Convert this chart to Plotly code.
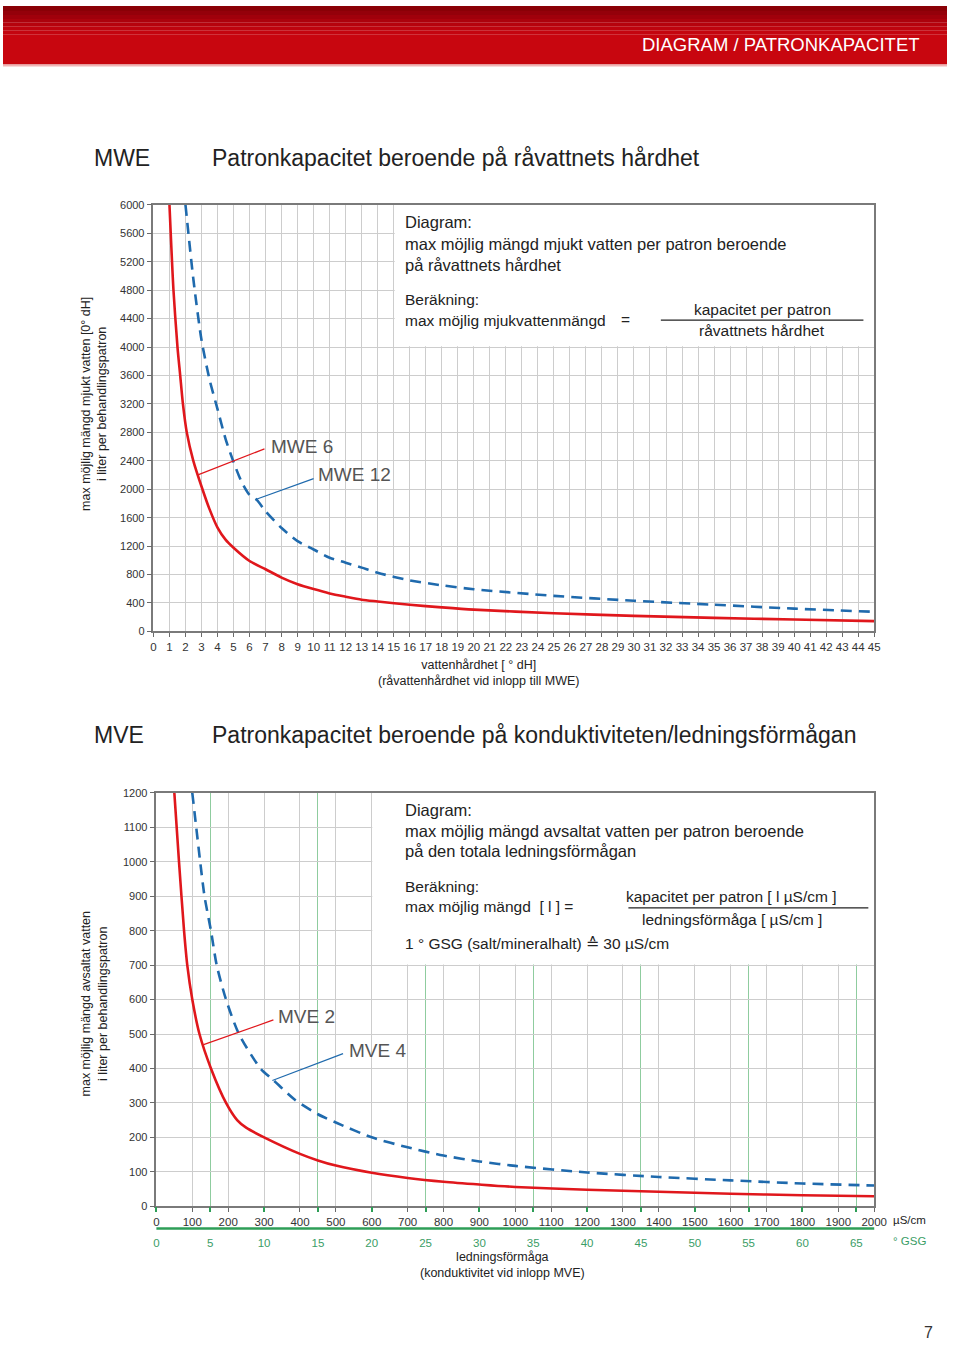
import plotly.graph_objects as go

# ---------------- data ----------------
hardness_red = [1, 1.25, 1.5, 1.67, 1.84, 2.08, 2.49, 3.06, 3.5, 4, 4.5, 5, 6, 7, 8, 9, 10, 11, 12, 13, 14, 16, 18, 20, 25, 30, 35, 40, 45]
mwe6 = [6000, 4800, 4000, 3600, 3200, 2800, 2400, 2000, 1720, 1460, 1290, 1176, 990, 874, 757, 664, 595, 534, 488, 446, 421, 375, 338, 306, 255, 218, 190, 167, 144]

hardness_blue = [2, 2.5, 3, 3.5, 4, 4.5, 5, 5.5, 6, 6.45, 7, 8, 9, 10, 11, 12, 13, 14, 16, 18, 20, 25, 30, 35, 40, 45]
mwe12 = [6000, 4940, 4100, 3545, 3127, 2709, 2384, 2105, 1920, 1850, 1690, 1454, 1269, 1152, 1036, 967, 897, 824, 718, 648, 593, 500, 431, 375, 320, 275]

cond_red = [50, 63, 77, 86, 100, 120, 152, 194, 225, 250, 300, 400, 450, 500, 600, 700, 800, 900, 1000, 1200, 1400, 1600, 1800, 2000]
mve2 = [1200, 1000, 800, 700, 600, 500, 400, 300, 250, 228, 200, 152, 133, 118, 97, 82, 71, 63, 56, 48, 42, 36, 32, 29]

cond_blue = [100, 111, 122, 134, 152, 168, 194, 230, 290, 327, 385, 450, 500, 600, 700, 800, 900, 1000, 1200, 1400, 1600, 1800, 2000]
mve4 = [1200, 1100, 1000, 900, 800, 700, 600, 500, 400, 365, 310, 267, 243, 200, 171, 147, 130, 117, 98, 85, 75, 66, 60]

hardness_ticks = list(range(0, 46))
capacity_ticks_top = list(range(0, 6001, 400))
cond_ticks = list(range(0, 2001, 100))
capacity_ticks_bottom = list(range(0, 1201, 100))
gsg_ticks = list(range(0, 66, 5))
gsg_grid = [5, 15, 25, 35, 45, 55, 65]

# ---------------- styling ----------------
W, H = 960, 1347
RED = "#e0171c"
BLUE = "#1f6aad"
GREEN = "#2e9e57"
GREEN_TXT = "#3a9d66"
GRID = "#cdcdcd"
FONT = "Liberation Sans, Arial, sans-serif"
NARROW = "Liberation Sans Narrow, Liberation Sans, Arial, sans-serif"


def px(x):
    return x / W


def py(y):
    return 1 - y / H


fig = go.Figure()

fig.add_trace(go.Scatter(x=hardness_red, y=mwe6, mode="lines", xaxis="x", yaxis="y",
                         line=dict(color=RED, width=2.6, shape="spline", smoothing=0.7),
                         showlegend=False, hoverinfo="skip"))
fig.add_trace(go.Scatter(x=hardness_blue, y=mwe12, mode="lines", xaxis="x", yaxis="y",
                         line=dict(color=BLUE, width=2.6, dash="11px,7px", shape="spline", smoothing=0.7),
                         showlegend=False, hoverinfo="skip"))
fig.add_trace(go.Scatter(x=cond_red, y=mve2, mode="lines", xaxis="x2", yaxis="y2",
                         line=dict(color=RED, width=2.6, shape="spline", smoothing=0.7),
                         showlegend=False, hoverinfo="skip"))
fig.add_trace(go.Scatter(x=cond_blue, y=mve4, mode="lines", xaxis="x2", yaxis="y2",
                         line=dict(color=BLUE, width=2.6, dash="11px,7px", shape="spline", smoothing=0.7),
                         showlegend=False, hoverinfo="skip"))
# invisible trace to activate the GSG overlay axis
fig.add_trace(go.Scatter(x=[0, 65], y=[None, None], mode="lines", xaxis="x3", yaxis="y2",
                         showlegend=False, hoverinfo="skip"))

axis_common = dict(showgrid=True, gridcolor=GRID, gridwidth=1, zeroline=False,
                   showline=True, linecolor="#7a7a7a", linewidth=1.5, mirror=True,
                   ticks="outside", tickcolor="#6a6a6a", ticklen=4,
                   tickfont=dict(family=FONT, size=11, color="#333"))

fig.update_layout(
    width=W, height=H, margin=dict(l=0, r=0, t=0, b=0),
    paper_bgcolor="white", plot_bgcolor="white",
    font=dict(family=FONT, color="#333"),
    hovermode=False,
    xaxis=dict(axis_common, domain=[px(153), px(886)], range=[0, 45], anchor="y",
               tickmode="array", tickvals=hardness_ticks,
               tickfont=dict(family=NARROW, size=11.5, color="#333")),
    yaxis=dict(axis_common, domain=[py(631), py(200.7)], range=[0, 6000], anchor="x",
               tickmode="array", tickvals=capacity_ticks_top, ticklen=5),
    xaxis2=dict(axis_common, domain=[px(156), px(886)], range=[0, 2000], anchor="y2",
                tickmode="array", tickvals=cond_ticks,
                minor=dict(tickmode="array", tickvals=[g * 30 for g in gsg_grid],
                           showgrid=True, gridcolor="#8fcc9f", gridwidth=1, ticks=""),
                tickfont=dict(family=NARROW, size=11.5, color="#333")),
    yaxis2=dict(axis_common, domain=[py(1211), py(794)], range=[0, 1200], anchor="x2",
                tickmode="array", tickvals=capacity_ticks_bottom, ticklen=5),
    xaxis3=dict(overlaying="x2", anchor="y2", side="bottom", range=[0, 2000 / 30],
                showgrid=False, zeroline=False, showline=False,
                tickmode="array", tickvals=gsg_ticks, ticktext=[str(t) for t in gsg_ticks],
                ticks="outside", ticklen=5, tickwidth=1.5, tickcolor=GREEN,
                ticklabelstandoff=21,
                tickfont=dict(family=NARROW, size=11.5, color=GREEN_TXT)),
)

shapes = []
# header gradient band
band_cols = ["#8a0006", "#94000a", "#a0000b", "#ac020c", "#b6030d", "#be040e", "#c4050f", "#c8060f"]
band_y = [0, 5, 9, 13, 17, 21, 25, 29]
for i, c in enumerate(band_cols):
    y0 = band_y[i]
    y1 = band_y[i + 1] if i + 1 < len(band_y) else 59
    shapes.append(dict(type="rect", xref="paper", yref="paper", x0=0, x1=1,
                       y0=py(y1), y1=py(y0), fillcolor=c, line=dict(width=0), layer="below"))
shapes.append(dict(type="rect", xref="paper", yref="paper", x0=0, x1=1,
                   y0=py(61), y1=py(59), fillcolor="#f0b5b5", line=dict(width=0), layer="below"))

# white text boxes covering the grid
shapes.append(dict(type="rect", xref="x", yref="y", x0=15.06, x1=45, y0=4012, y1=6000,
                   fillcolor="white", line=dict(width=0), layer="between"))
shapes.append(dict(type="rect", xref="x2", yref="y2", x0=601.5, x1=2000, y0=702, y1=1200,
                   fillcolor="white", line=dict(width=0), layer="between"))

# leader lines for curve labels
shapes.append(dict(type="line", xref="x", yref="y", x0=2.82, y0=2205, x1=6.93, y1=2567,
                   line=dict(color=RED, width=1.2)))
shapes.append(dict(type="line", xref="x", yref="y", x0=6.38, y0=1856, x1=10.0, y1=2149,
                   line=dict(color=BLUE, width=1.2)))
shapes.append(dict(type="line", xref="x2", yref="y2", x0=131.5, y0=469, x1=326, y1=541,
                   line=dict(color=RED, width=1.2)))
shapes.append(dict(type="line", xref="x2", yref="y2", x0=323, y0=365, x1=520, y1=443,
                   line=dict(color=BLUE, width=1.2)))

# fraction bars
shapes.append(dict(type="line", xref="paper", yref="paper", x0=px(669), x1=px(875), y0=py(317), y1=py(317),
                   line=dict(color="#222", width=1.3)))
shapes.append(dict(type="line", xref="paper", yref="paper", x0=px(636), x1=px(880), y0=py(910), y1=py(910),
                   line=dict(color="#222", width=1.3)))
# green GSG axis line
shapes.append(dict(type="line", xref="paper", yref="paper", x0=px(156), x1=px(886), y0=py(1233.5), y1=py(1233.5),
                   line=dict(color=GREEN, width=2.5)))

fig.update_layout(shapes=shapes)

ann = []


def text(x, y, s, size=16, color="#222", anchor="left", family=FONT, angle=0, valign="middle"):
    ann.append(dict(x=px(x), y=py(y), xref="paper", yref="paper", text=s, showarrow=False,
                    xanchor=anchor, yanchor=valign, textangle=angle,
                    font=dict(family=family, size=size, color=color)))


text(935, 39, "DIAGRAM / PATRONKAPACITET", size=18.5, color="white", anchor="right")

text(90, 153, "MWE", size=23)
text(210, 153, "Patronkapacitet beroende på råvattnets hårdhet", size=23)
text(90, 736, "MVE", size=23)
text(210, 736, "Patronkapacitet beroende på konduktiviteten/ledningsförmågan", size=23)

# top box text
text(407, 218, "Diagram:", size=16.5)
text(407, 240, "max möjlig mängd mjukt vatten per patron beroende", size=16.5)
text(407, 261, "på råvattnets hårdhet", size=16.5)
text(407, 296, "Beräkning:", size=15.5)
text(407, 317, "max möjlig mjukvattenmängd", size=15.5)
text(633, 316, "=", size=15.5, anchor="center")
text(772, 306, "kapacitet per patron", size=15.5, anchor="center")
text(772, 327, "råvattnets hårdhet", size=15.5, anchor="center")

# bottom box text
text(407, 811, "Diagram:", size=16.5)
text(407, 832, "max möjlig mängd avsaltat vatten per patron beroende", size=16.5)
text(407, 853, "på den totala ledningsförmågan", size=16.5)
text(407, 888, "Beräkning:", size=15.5)
text(407, 909, "max möjlig mängd  [ l ] =", size=15.5)
text(741, 899, "kapacitet per patron [ l µS/cm ]", size=15.5, anchor="center")
text(741, 922, "ledningsförmåga [ µS/cm ]", size=15.5, anchor="center")
text(407, 946, "1 ° GSG (salt/mineralhalt) ≙ 30 µS/cm", size=15.5)

# curve labels
text(270, 444, "MWE 6", size=19, color="#555")
text(318, 473, "MWE 12", size=19, color="#555")
text(278, 1020, "MVE 2", size=19, color="#555")
text(350, 1054, "MVE 4", size=19, color="#555")

# axis titles
text(93, 401, "max möjlig mängd mjukt vatten [0° dH]<br>i liter per behandlingspatron", size=12.5,
     anchor="center", angle=-90)
text(93, 1006, "max möjlig mängd avsaltat vatten<br>i liter per behandlingspatron", size=12.5,
     anchor="center", angle=-90)
text(484, 673, "vattenhårdhet [ ° dH]<br>(råvattenhårdhet vid inlopp till MWE)", size=12.5, anchor="center",
     family=NARROW)
text(508, 1270, "ledningsförmåga<br>(konduktivitet vid inlopp MVE)", size=12.5, anchor="center",
     family=NARROW)
text(903, 1225, "µS/cm", size=11.5, family=NARROW)
text(903, 1246, "° GSG", size=11.5, color=GREEN_TXT, family=NARROW)

text(941, 1338, "7", size=16, anchor="center", color="#333")

fig.update_layout(annotations=ann)

post = (
    "var de=document.documentElement;de.style.margin='0';de.style.padding='0';de.style.overflow='hidden';"
    "de.style.width='960px';de.style.height='1347px';"
    "var b=document.body;b.style.margin='0';b.style.padding='0';b.style.overflow='hidden';"
    "b.style.width='960px';b.style.height='1347px';"
    "var gd=document.getElementById('{plot_id}');"
    "gd.style.position='absolute';gd.style.left='0px';gd.style.top='0px';"
)

fig.write_html("out.html", config={"displayModeBar": False}, post_script=post)
